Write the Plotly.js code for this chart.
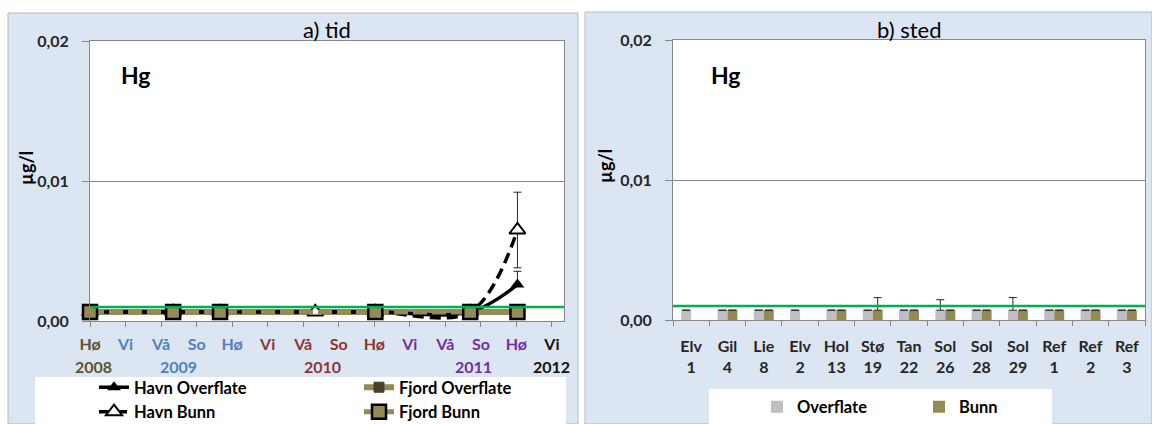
<!DOCTYPE html>
<html><head><meta charset="utf-8">
<script src="https://cdn.plot.ly/plotly-3.0.1.min.js"></script>
<style>html,body{margin:0;padding:0;background:#fff}#chart{width:1152px;height:424px}</style>
</head><body><div id="chart"></div>
<script>
// ---------- Panel a) tid ----------
const seasonLabels = ["Hø","Vi","Vå","So","Hø","Vi","Vå","So","Hø","Vi","Vå","So","Hø","Vi"];
const seasonColors = ["#5e5231","#4f81bd","#4f81bd","#4f81bd","#4f81bd","#8b3535","#8b3535","#8b3535","#8b3535","#7030a0","#7030a0","#7030a0","#7030a0","#111111"];
const seasonPos = [0,1,2,3,4,5,6,7,8,9,10,11,12,13];
const yearLabels = ["2008","2009","2010","2011","2012"];
const yearPos = [0.1, 2.5, 6.55, 10.8, 13.0];
const yearColors = ["#5e5231","#4f81bd","#8b3535","#7030a0","#111111"];

const havnDates = [0, 2.34, 3.66, 6.34, 8.03, 10.7, 12.03];
const havnOverflate = [0.00065, 0.00065, 0.00065, 0.00065, 0.00065, 0.00065, 0.0026];
const havnOverflateErr = [0, 0, 0, 0, 0, 0, 0.00095];
const havnBunn = [0.00065, 0.00065, 0.00065, 0.00065, 0.00065, 0.00065, 0.0065];
const havnBunnErr = [0, 0, 0, 0, 0, 0, 0.0027];

const fjordDates = [0, 2.34, 3.66, 8.03, 10.7, 12.03];
const fjordOverflate = [0.00065, 0.00065, 0.00065, 0.00065, 0.00065, 0.00065];
const fjordBunn = [0.00065, 0.00065, 0.00065, 0.00065, 0.00065, 0.00065];

const limitValue = 0.001;
const yTickVals = [0, 0.01, 0.02];
const yTickText = ["0,00", "0,01", "0,02"];

// ---------- Panel b) sted ----------
const stations = ["Elv<br>1","Gil<br>4","Lie<br>8","Elv<br>2","Hol<br>13","Stø<br>19","Tan<br>22","Sol<br>26","Sol<br>28","Sol<br>29","Ref<br>1","Ref<br>2","Ref<br>3"];
const stedOverflate = [0.0007,0.0007,0.0007,0.0007,0.0007,0.0007,0.0007,0.0007,0.0007,0.0007,0.0007,0.0007,0.0007];
const stedOverflateErr = [0,0,0,0,0,0,0,0.00075,0,0.0009,0,0,0];
const stedBunn = [null,0.0007,0.0007,null,0.0007,0.0007,0.0007,0.0007,0.0007,0.0007,0.0007,0.0007,0.0007];
const stedBunnErr = [0,0,0,0,0,0.0009,0,0,0,0,0,0,0];

// ---------- helpers ----------
const W = 1152, H = 424;
const px = v => v / W;
const py = v => 1 - v / H;
const FONT = "Lato, 'Open Sans', sans-serif";
const errStyle = {color:'#262626', thickness:1, width:4};
const zeros = a => a.map(() => 0);

const traces = [
  {type:'scatter', mode:'lines+markers', name:'Fjord Overflate', x:fjordDates, y:fjordOverflate,
   xaxis:'x', yaxis:'y', legend:'legend2', cliponaxis:false,
   line:{color:'#948a54', width:6, shape:'spline'},
   marker:{symbol:'square', size:10, color:'#4a4128', line:{color:'#4a4128', width:1}}},
  {type:'scatter', mode:'lines+markers', name:'Havn Overflate', x:havnDates, y:havnOverflate,
   xaxis:'x', yaxis:'y', legend:'legend', cliponaxis:false,
   line:{color:'#000000', width:3.5, shape:'spline', smoothing:1},
   marker:{symbol:'triangle-up', size:12, color:'#000000'},
   error_y:Object.assign({type:'data', symmetric:false, array:havnOverflateErr, arrayminus:zeros(havnOverflateErr)}, errStyle)},
  {type:'scatter', mode:'lines+markers', name:'Havn Bunn', x:havnDates, y:havnBunn,
   xaxis:'x', yaxis:'y', legend:'legend', cliponaxis:false,
   line:{color:'#000000', width:3.5, shape:'spline', smoothing:1, dash:'11px,6px'},
   marker:{symbol:'triangle-up', size:14, color:'#ffffff', line:{color:'#000000', width:2}},
   error_y:Object.assign({type:'data', array:havnBunnErr}, errStyle)},
  {type:'scatter', mode:'lines+markers', name:'Fjord Bunn', x:fjordDates, y:fjordBunn,
   xaxis:'x', yaxis:'y', legend:'legend2', cliponaxis:false,
   line:{color:'#948a54', width:5, dash:'14px,5px'},
   marker:{symbol:'square', size:14, color:'#948a54', line:{color:'#000000', width:2.5}}},
  {type:'bar', name:'Overflate', x:stations, y:stedOverflate, xaxis:'x2', yaxis:'y2', legend:'legend3',
   marker:{color:'#bfbfbf'},
   error_y:Object.assign({type:'data', symmetric:false, array:stedOverflateErr, arrayminus:zeros(stedOverflateErr)}, errStyle)},
  {type:'bar', name:'Bunn', x:stations, y:stedBunn, xaxis:'x2', yaxis:'y2', legend:'legend3',
   marker:{color:'#948a54'},
   error_y:Object.assign({type:'data', symmetric:false, array:stedBunnErr, arrayminus:zeros(stedBunnErr)}, errStyle)}
];

const axisFont = {family:FONT, size:16, color:'#262626', weight:700};
const yAxisCommon = {
  range:[0, 0.02], tickvals:yTickVals, ticktext:yTickText, ticks:'outside', ticklen:7,
  tickcolor:'#868686', ticklabelstandoff:10, showgrid:true, gridcolor:'#868686', gridwidth:1,
  zeroline:false, showline:true, linecolor:'#868686', mirror:true, tickfont:axisFont, fixedrange:true
};

const annotations = [];
yearLabels.forEach((t, i) => annotations.push({
  text:t, x:yearPos[i], xref:'x', y:py(366), yref:'paper', showarrow:false,
  xanchor:'center', yanchor:'middle', font:{family:FONT, size:16, color:yearColors[i], weight:700}
}));
[[327, 'a) tid'], [909, 'b) sted']].forEach(([x, t]) => annotations.push({
  text:t, x:px(x), y:py(29), xref:'paper', yref:'paper', showarrow:false,
  xanchor:'center', yanchor:'middle', font:{family:FONT, size:22, color:'#000'}
}));
[[136, 75], [726, 75]].forEach(([x, y]) => annotations.push({
  text:'Hg', x:px(x), y:py(y), xref:'paper', yref:'paper', showarrow:false,
  xanchor:'center', yanchor:'middle', font:{family:FONT, size:23, color:'#000', weight:700}
}));
[[26, 168], [605, 166]].forEach(([x, y]) => annotations.push({
  text:'µg/l', x:px(x), y:py(y), xref:'paper', yref:'paper', showarrow:false, textangle:-90,
  xanchor:'center', yanchor:'middle', font:{family:FONT, size:18, color:'#000', weight:700}
}));

const shapes = [
  {type:'rect', xref:'paper', yref:'paper', x0:px(8), x1:px(578), y0:py(424), y1:py(13), fillcolor:'#dce6f2', line:{color:'#b4b9c0', width:1}, layer:'below'},
  {type:'rect', xref:'paper', yref:'paper', x0:px(585), x1:px(1152), y0:py(424), y1:py(12), fillcolor:'#dce6f2', line:{color:'#b4b9c0', width:1}, layer:'below'},
  {type:'rect', xref:'paper', yref:'paper', x0:px(90), x1:px(564), y0:py(321), y1:py(41), fillcolor:'#ffffff', line:{width:0}, layer:'below'},
  {type:'rect', xref:'paper', yref:'paper', x0:px(673), x1:px(1145), y0:py(320), y1:py(40), fillcolor:'#ffffff', line:{width:0}, layer:'below'},
  {type:'rect', xref:'paper', yref:'paper', x0:px(35), x1:px(566), y0:py(424), y1:py(377), fillcolor:'#ffffff', line:{width:0}, layer:'below'},
  {type:'rect', xref:'paper', yref:'paper', x0:px(709), x1:px(1052), y0:py(424), y1:py(389), fillcolor:'#ffffff', line:{width:0}, layer:'below'},
  {type:'line', xref:'x domain', yref:'y', x0:0, x1:1, y0:limitValue, y1:limitValue, line:{color:'#00b050', width:2.5}},
  {type:'line', xref:'x2 domain', yref:'y2', x0:0, x1:1, y0:limitValue, y1:limitValue, line:{color:'#00b050', width:2.5}}
];

const legendFont = {family:FONT, size:16.5, color:'#000', weight:700};
const layout = {
  width:W, height:H, autosize:false, margin:{l:0, r:0, t:0, b:0, autoexpand:false},
  paper_bgcolor:'#ffffff', plot_bgcolor:'rgba(0,0,0,0)',
  font:{family:FONT},
  xaxis:{domain:[px(90), px(564)], range:[0, 13.34], tickvals:seasonPos,
    ticktext:seasonLabels.map((l, i) => `<span style="color:${seasonColors[i]}">${l}</span>`),
    ticks:'outside', ticklen:5, tickcolor:'#868686', showline:true, linecolor:'#868686', mirror:true,
    showgrid:false, zeroline:false, tickfont:axisFont, ticklabelstandoff:4, fixedrange:true},
  yaxis:Object.assign({domain:[py(321), py(41)], anchor:'x'}, yAxisCommon),
  xaxis2:{domain:[px(673), px(1145)], anchor:'y2', type:'category', ticks:'outside', tickson:'boundaries',
    ticklen:5, tickcolor:'#868686', showline:true, linecolor:'#868686', mirror:true, showgrid:false,
    tickfont:axisFont, ticklabelstandoff:12, fixedrange:true},
  yaxis2:Object.assign({domain:[py(320), py(40)], anchor:'x2'}, yAxisCommon),
  barmode:'group', bargap:0.45, bargroupgap:0,
  showlegend:true,
  legend:{x:px(94), y:py(370), xanchor:'left', yanchor:'top', orientation:'v', bgcolor:'rgba(0,0,0,0)',
    font:legendFont, traceorder:'normal'},
  legend2:{x:px(359), y:py(370), xanchor:'left', yanchor:'top', orientation:'v', bgcolor:'rgba(0,0,0,0)',
    font:legendFont, traceorder:'normal'},
  legend3:{x:px(757), y:py(407), xanchor:'left', yanchor:'middle', orientation:'h', bgcolor:'rgba(0,0,0,0)',
    font:legendFont, entrywidth:117},
  shapes:shapes,
  annotations:annotations
};

Plotly.newPlot('chart', traces, layout, {displayModeBar:false, staticPlot:true});
</script>
</body></html>
